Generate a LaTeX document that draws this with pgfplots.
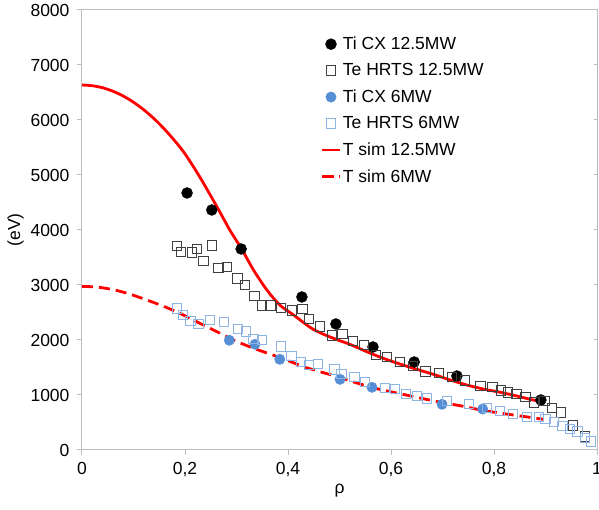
\documentclass[border=0pt]{standalone}
\usepackage{pgfplots}
\pgfplotsset{compat=1.18}
\usepackage{fontspec}
\setmainfont{Liberation Sans}
\definecolor{axgray}{RGB}{190,190,190}
\definecolor{tiblue}{RGB}{85,142,213}
\definecolor{teblue}{RGB}{141,180,226}
\definecolor{tegray}{RGB}{64,64,64}
\definecolor{simred}{RGB}{255,0,0}
\begin{document}
\begin{tikzpicture}[font=\fontsize{17.5}{21}\selectfont]
\begin{axis}[
  scale only axis, width=515pt, height=440pt,
  xmin=0, xmax=1, ymin=0, ymax=8000,
  xtick={0,0.2,0.4,0.6,0.8,1}, ytick={0,1000,2000,3000,4000,5000,6000,7000,8000},
  xtick pos=bottom, ytick pos=left, tick align=outside,
  major tick length=5pt,
  axis line style={axgray, line width=1pt},
  tick style={axgray, line width=1pt},
  scaled ticks=false,
  xticklabel style={yshift=-4pt, /pgf/number format/.cd, use comma, fixed, assume math mode=true},
  yticklabel style={xshift=-4pt, /pgf/number format/.cd, 1000 sep={}, assume math mode=true},
  xlabel={ρ}, ylabel={(eV)},
  legend cell align=left,
  legend style={at={(0.458,0.948)}, anchor=north west, draw=none, fill=none,
    row sep=8.5pt, font=\fontsize{17.5}{21}\selectfont},
]
\addplot[only marks, mark=*, mark size=5.5pt, mark options={black, fill=black}] coordinates {
(0.204,4673)(0.252,4364)(0.309,3655)(0.427,2782)(0.493,2291)(0.565,1873)(0.645,1600)(0.728,1345)(0.891,909)};
\addlegendentry{Ti CX 12.5MW}
\addplot[only marks, mark=square, mark size=4.7pt, mark options={tegray, line width=1pt}] coordinates {
(0.184,3709)(0.192,3605)(0.214,3594)(0.223,3649)(0.236,3436)(0.252,3715)(0.265,3309)(0.282,3327)(0.302,3115)(0.317,3005)(0.335,2805)(0.350,2624)(0.366,2624)(0.386,2587)(0.408,2533)(0.428,2558)(0.441,2387)(0.462,2242)(0.485,2085)(0.506,2109)(0.526,1987)(0.548,1909)(0.571,1727)(0.592,1691)(0.617,1605)(0.643,1527)(0.667,1424)(0.693,1395)(0.719,1322)(0.744,1260)(0.774,1164)(0.797,1140)(0.813,1078)(0.827,1042)(0.844,1018)(0.861,958)(0.878,867)(0.898,896)(0.913,758)(0.930,685)(0.953,442)(0.977,242)};
\addlegendentry{Te HRTS 12.5MW}
\addplot[only marks, mark=*, mark size=5.2pt, mark options={tiblue, fill=tiblue}] coordinates {
(0.286,1995)(0.336,1922)(0.384,1649)(0.501,1285)(0.563,1140)(0.699,831)(0.778,745)};
\addlegendentry{Ti CX 6MW}
\addplot[only marks, mark=square, mark size=4.7pt, mark options={teblue, line width=1pt}] coordinates {
(0.185,2576)(0.196,2455)(0.211,2345)(0.226,2291)(0.249,2364)(0.276,2327)(0.303,2200)(0.318,2151)(0.333,2018)(0.350,2000)(0.386,1878)(0.407,1709)(0.425,1605)(0.441,1540)(0.458,1564)(0.490,1467)(0.504,1382)(0.529,1322)(0.550,1236)(0.588,1122)(0.608,1109)(0.629,1018)(0.650,987)(0.670,933)(0.709,891)(0.751,836)(0.786,758)(0.812,704)(0.837,649)(0.864,605)(0.887,605)(0.900,558)(0.917,509)(0.933,436)(0.948,382)(0.962,333)(0.977,213)(0.988,151)};
\addlegendentry{Te HRTS 6MW}
\addplot[simred, line width=2.8pt, smooth, no marks] coordinates {
(0,6636)(0.02,6623)(0.04,6586)(0.06,6523)(0.08,6436)(0.1,6323)(0.12,6185)(0.14,6023)(0.16,5835)(0.18,5622)(0.2,5384)(0.229,4960)(0.262,4423)(0.287,4000)(0.310,3655)(0.333,3273)(0.359,2909)(0.384,2636)(0.41,2460)(0.449,2194)(0.488,2031)(0.520,1922)(0.553,1787)(0.585,1667)(0.617,1564)(0.650,1467)(0.682,1376)(0.715,1273)(0.747,1182)(0.779,1109)(0.812,1049)(0.844,982)(0.876,909)(0.899,867)};
\addlegendentry{T sim 12.5MW}
\addplot[simred, line width=2.8pt, dash pattern=on 11pt off 6pt, smooth, no marks] coordinates {
(0,2975)(0.03,2961)(0.06,2916)(0.09,2843)(0.122,2740)(0.157,2618)(0.19,2485)(0.229,2303)(0.262,2151)(0.294,2000)(0.333,1849)(0.365,1745)(0.397,1636)(0.43,1515)(0.462,1424)(0.501,1318)(0.54,1200)(0.579,1100)(0.617,1025)(0.656,945)(0.695,870)(0.734,805)(0.773,730)(0.812,670)(0.85,620)(0.896,558)};
\addlegendentry{T sim 6MW}
\end{axis}
\begin{axis}[
  scale only axis, width=515pt, height=440pt,
  xmin=0, xmax=1, ymin=0, ymax=8000,
  axis x line=none, axis y line*=right,
  ytick={1000,2000,3000,4000,5000,6000,7000,8000}, yticklabels={},
  tick align=inside, major tick length=3pt,
  axis line style={axgray, line width=1pt},
  tick style={axgray, line width=1pt},
]
\end{axis}
\pgfresetboundingbox
\path ([shift={(-82pt,-60pt)}]current axis.south west) rectangle ([shift={(2pt,10pt)}]current axis.north east);
\end{tikzpicture}
\end{document}
